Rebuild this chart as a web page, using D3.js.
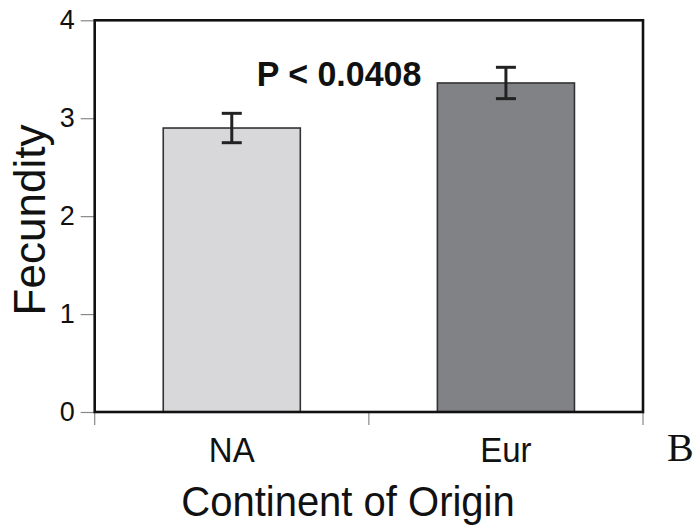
<!DOCTYPE html>
<html>
<head>
<meta charset="utf-8">
<script src="https://cdn.jsdelivr.net/npm/d3@7"></script>
<style>
  html, body { margin: 0; padding: 0; background: #fff; }
  svg { display: block; }
</style>
</head>
<body>
<svg id="chart" width="696" height="529"></svg>
<script>
// Mean fecundity by continent of origin, with standard error
const categories = ["NA", "Eur"];
const means = [2.9, 3.36];
const errors = [0.15, 0.16];
const barColors = ["#d8d8da", "#808285"];
const yTicks = [0, 1, 2, 3, 4];
const pLabel = "P < 0.0408";

const svg = d3.select("#chart");
const plotLeft = 94.7, plotRight = 643, plotTop = 20.3, plotBottom = 412;
const sans = "'Liberation Sans', Arial, Helvetica, sans-serif";

const x = d3.scaleBand()
  .domain(categories)
  .range([plotLeft, plotRight])
  .paddingInner(0.5)
  .paddingOuter(0.25);

const y = d3.scaleLinear().domain([0, 4]).range([plotBottom, plotTop]);

// bars
svg.selectAll("rect.bar")
  .data(categories)
  .join("rect")
  .attr("class", "bar")
  .attr("x", d => x(d))
  .attr("width", x.bandwidth())
  .attr("y", (d, i) => y(means[i]))
  .attr("height", (d, i) => y(0) - y(means[i]))
  .attr("fill", (d, i) => barColors[i])
  .attr("stroke", "#333")
  .attr("stroke-width", 1.6);

// error bars
const eb = svg.selectAll("g.err")
  .data(categories)
  .join("g")
  .attr("class", "err")
  .attr("stroke", "#222")
  .attr("stroke-width", 3);
eb.append("line")
  .attr("x1", d => x(d) + x.bandwidth() / 2)
  .attr("x2", d => x(d) + x.bandwidth() / 2)
  .attr("y1", (d, i) => y(means[i] + errors[i]))
  .attr("y2", (d, i) => y(means[i] - errors[i]));
eb.append("line")
  .attr("x1", d => x(d) + x.bandwidth() / 2 - 10)
  .attr("x2", d => x(d) + x.bandwidth() / 2 + 10)
  .attr("y1", (d, i) => y(means[i] + errors[i]))
  .attr("y2", (d, i) => y(means[i] + errors[i]));
eb.append("line")
  .attr("x1", d => x(d) + x.bandwidth() / 2 - 10)
  .attr("x2", d => x(d) + x.bandwidth() / 2 + 10)
  .attr("y1", (d, i) => y(means[i] - errors[i]))
  .attr("y2", (d, i) => y(means[i] - errors[i]));

// y axis ticks and labels
const yAxis = svg.append("g")
  .attr("transform", `translate(${plotLeft},0)`)
  .call(d3.axisLeft(y).tickValues(yTicks).tickSize(14).tickPadding(6).tickFormat(d3.format("d")));
yAxis.select(".domain").remove();
yAxis.selectAll(".tick line").attr("stroke", "#888").attr("stroke-width", 1.2);
yAxis.selectAll(".tick text")
  .attr("fill", "#111")
  .style("font-family", sans)
  .style("font-size", "27px");

// x axis tick marks at band boundaries
const boundaries = [plotLeft, (plotLeft + plotRight) / 2, plotRight];
svg.selectAll("line.xtick")
  .data(boundaries)
  .join("line")
  .attr("class", "xtick")
  .attr("x1", d => d).attr("x2", d => d)
  .attr("y1", plotBottom).attr("y2", plotBottom + 13)
  .attr("stroke", "#888")
  .attr("stroke-width", 1.2);

// category labels
svg.selectAll("text.cat")
  .data(categories)
  .join("text")
  .attr("class", "cat")
  .attr("transform", d => `translate(${x(d) + x.bandwidth() / 2},462) scale(1,1.04)`)
  .attr("text-anchor", "middle")
  .attr("fill", "#111")
  .style("font-family", sans)
  .style("font-size", "33px")
  .text(d => d);

// plot frame
svg.append("rect")
  .attr("x", plotLeft).attr("y", plotTop)
  .attr("width", plotRight - plotLeft).attr("height", plotBottom - plotTop)
  .attr("fill", "none")
  .attr("stroke", "#111")
  .attr("stroke-width", 2.6);

// significance label
svg.append("text")
  .attr("transform", "translate(339,86) scale(1,1.04)")
  .attr("text-anchor", "middle")
  .attr("fill", "#111")
  .style("font-family", sans)
  .style("font-weight", "bold")
  .style("font-size", "34px")
  .text(pLabel);

// axis titles
svg.append("text")
  .attr("transform", "translate(348,516) scale(1,1.08)")
  .attr("text-anchor", "middle")
  .attr("fill", "#111")
  .style("font-family", sans)
  .style("font-size", "40px")
  .text("Continent of Origin");

svg.append("text")
  .attr("transform", "translate(45,220) rotate(-90)")
  .attr("text-anchor", "middle")
  .attr("fill", "#111")
  .style("font-family", sans)
  .style("font-size", "44px")
  .text("Fecundity");

// panel letter
svg.append("text")
  .attr("x", 667)
  .attr("y", 461)
  .attr("fill", "#111")
  .style("font-family", "'Liberation Serif', 'DejaVu Serif', serif")
  .style("font-size", "40px")
  .style("font-weight", "300")
  .text("B");
</script>
</body>
</html>
